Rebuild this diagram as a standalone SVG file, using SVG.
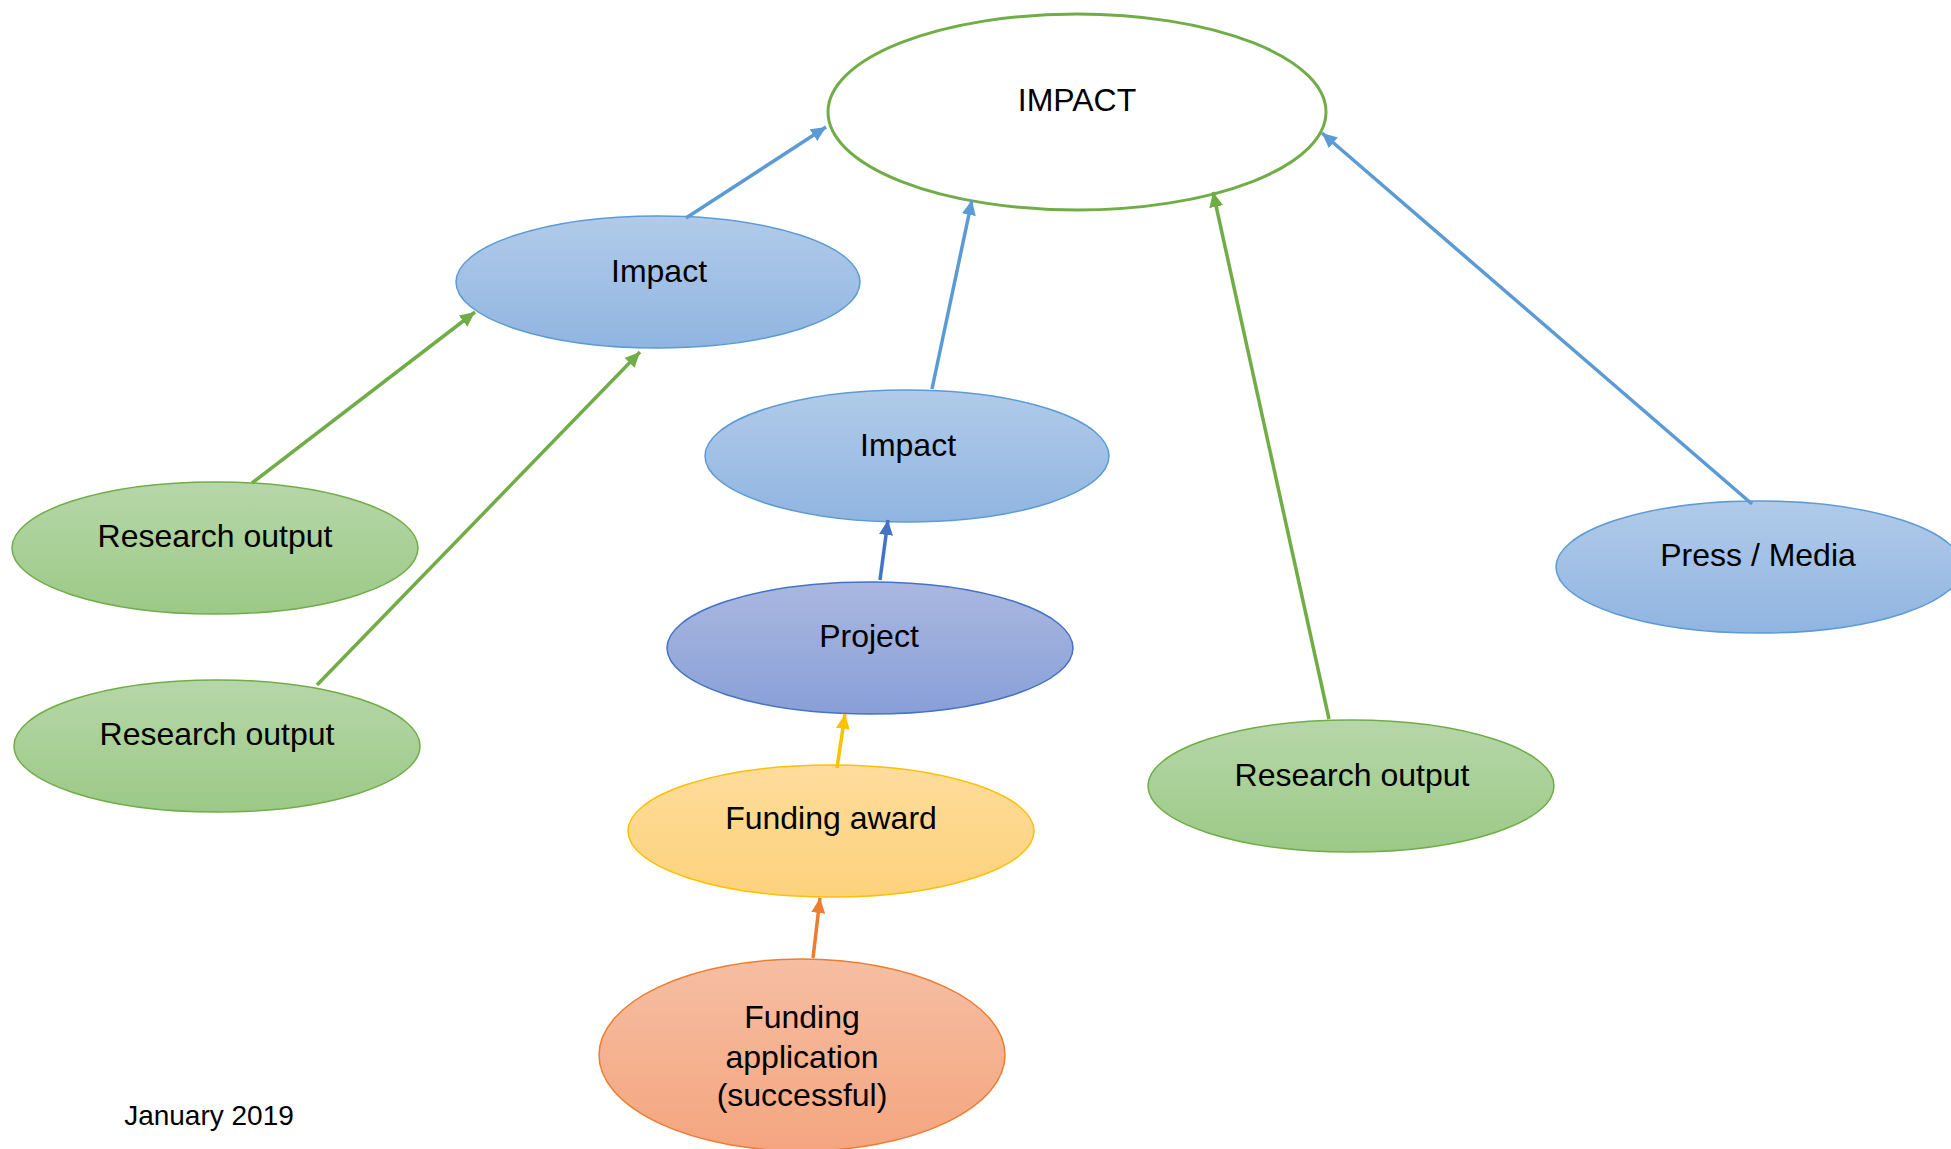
<svg xmlns="http://www.w3.org/2000/svg" width="1951" height="1149" viewBox="0 0 1951 1149">
<defs>
<linearGradient id="gBlue" x1="0" y1="0" x2="0" y2="1"><stop offset="0" stop-color="#B1CBE9"/><stop offset="1" stop-color="#90B5E1"/></linearGradient>
<linearGradient id="gGreen" x1="0" y1="0" x2="0" y2="1"><stop offset="0" stop-color="#B6D7A8"/><stop offset="1" stop-color="#9CC987"/></linearGradient>
<linearGradient id="gProj" x1="0" y1="0" x2="0" y2="1"><stop offset="0" stop-color="#AAB8E0"/><stop offset="1" stop-color="#889FD7"/></linearGradient>
<linearGradient id="gYellow" x1="0" y1="0" x2="0" y2="1"><stop offset="0" stop-color="#FEDC9B"/><stop offset="1" stop-color="#FDD27C"/></linearGradient>
<linearGradient id="gOrange" x1="0" y1="0" x2="0" y2="1"><stop offset="0" stop-color="#F6BEA2"/><stop offset="1" stop-color="#F4A57F"/></linearGradient>
<marker id="aBlue" markerUnits="userSpaceOnUse" markerWidth="16" markerHeight="14" refX="15" refY="7" orient="auto"><path d="M0,0 L15,7 L0,14 z" fill="#5B9BD5"/></marker>
<marker id="aGreen" markerUnits="userSpaceOnUse" markerWidth="16" markerHeight="14" refX="15" refY="7" orient="auto"><path d="M0,0 L15,7 L0,14 z" fill="#70AD47"/></marker>
<marker id="aDark" markerUnits="userSpaceOnUse" markerWidth="16" markerHeight="14" refX="15" refY="7" orient="auto"><path d="M0,0 L15,7 L0,14 z" fill="#4472C4"/></marker>
<marker id="aYellow" markerUnits="userSpaceOnUse" markerWidth="16" markerHeight="14" refX="15" refY="7" orient="auto"><path d="M0,0 L15,7 L0,14 z" fill="#FFC000"/></marker>
<marker id="aOrange" markerUnits="userSpaceOnUse" markerWidth="16" markerHeight="14" refX="15" refY="7" orient="auto"><path d="M0,0 L15,7 L0,14 z" fill="#ED7D31"/></marker>
</defs>
<style>
text{font-family:"Liberation Sans",Arial,sans-serif;font-size:32px;fill:#000;text-anchor:middle}
.blue{fill:url(#gBlue);stroke:#5B9BD5;stroke-width:1.5}
.green{fill:url(#gGreen);stroke:#70AD47;stroke-width:1.5}
.proj{fill:url(#gProj);stroke:#4472C4;stroke-width:1.5}
.yellow{fill:url(#gYellow);stroke:#FFC000;stroke-width:1.5}
.orange{fill:url(#gOrange);stroke:#ED7D31;stroke-width:1.5}
.c{fill:none;stroke-width:3.5}
</style>
<rect width="1951" height="1149" fill="#fff"/>
<g id="n-impact-main"><ellipse cx="1077" cy="112" rx="249" ry="98" fill="#fff" stroke="#70AD47" stroke-width="3"/><text x="1077" y="111">IMPACT</text></g>
<g id="n-impact1"><ellipse class="blue" cx="658" cy="282" rx="202" ry="66"/><text x="659" y="282">Impact</text></g>
<g id="n-impact2"><ellipse class="blue" cx="907" cy="456" rx="202" ry="66"/><text x="908" y="456">Impact</text></g>
<g id="n-research1"><ellipse class="green" cx="215" cy="548" rx="203" ry="66"/><text x="215" y="547">Research output</text></g>
<g id="n-research2"><ellipse class="green" cx="217" cy="746" rx="203" ry="66"/><text x="217" y="745">Research output</text></g>
<g id="n-research3"><ellipse class="green" cx="1351" cy="786" rx="203" ry="66"/><text x="1352" y="786">Research output</text></g>
<g id="n-press"><ellipse class="blue" cx="1759" cy="567" rx="203" ry="66"/><text x="1758" y="566">Press / Media</text></g>
<g id="n-project"><ellipse class="proj" cx="870" cy="648" rx="203" ry="66"/><text x="869" y="647">Project</text></g>
<g id="n-award"><ellipse class="yellow" cx="831" cy="831" rx="203" ry="66"/><text x="831" y="829">Funding award</text></g>
<g id="n-application"><ellipse class="orange" cx="802" cy="1055" rx="203" ry="96"/><text x="802" y="1028">Funding</text><text x="802" y="1068">application</text><text x="802" y="1106">(successful)</text></g>
<g id="connectors">
<line class="c" x1="686" y1="218" x2="826" y2="127" stroke="#5B9BD5" marker-end="url(#aBlue)"/>
<line class="c" x1="932" y1="389" x2="972" y2="200" stroke="#5B9BD5" marker-end="url(#aBlue)"/>
<line class="c" x1="1329" y1="719" x2="1213" y2="192" stroke="#70AD47" marker-end="url(#aGreen)"/>
<line class="c" x1="1752" y1="504" x2="1322" y2="133" stroke="#5B9BD5" marker-end="url(#aBlue)"/>
<line class="c" x1="252" y1="483" x2="475" y2="312" stroke="#70AD47" marker-end="url(#aGreen)"/>
<line class="c" x1="317" y1="685" x2="640" y2="352" stroke="#70AD47" marker-end="url(#aGreen)"/>
<line class="c" x1="880" y1="580" x2="888" y2="520" stroke="#4472C4" marker-end="url(#aDark)"/>
<line class="c" x1="837" y1="768" x2="845" y2="714" stroke="#FFC000" marker-end="url(#aYellow)"/>
<line class="c" x1="813" y1="958" x2="820" y2="898" stroke="#ED7D31" marker-end="url(#aOrange)"/>
</g>
<text x="209" y="1125" style="font-size:28px">January 2019</text>
</svg>
